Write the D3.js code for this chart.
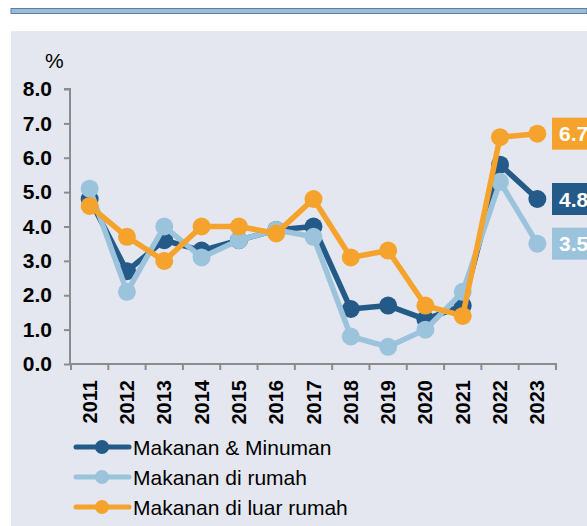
<!DOCTYPE html>
<html>
<head>
<meta charset="utf-8">
<script src="https://cdn.jsdelivr.net/npm/d3@7"></script>
<style>
  body { margin: 0; background: #fff; font-family: Arial, "Liberation Sans", sans-serif; }
</style>
</head>
<body>
<div id="chart"></div>
<script>
// data
var years = ["2011","2012","2013","2014","2015","2016","2017","2018","2019","2020","2021","2022","2023"];
var makananMinuman = [4.8, 2.7, 3.6, 3.3, 3.6, 3.9, 4.0, 1.6, 1.7, 1.3, 1.7, 5.8, 4.8];
var makananDiRumah = [5.1, 2.1, 4.0, 3.1, 3.6, 3.9, 3.7, 0.8, 0.5, 1.0, 2.1, 5.3, 3.5];
var makananLuarRumah = [4.6, 3.7, 3.0, 4.0, 4.0, 3.8, 4.8, 3.1, 3.3, 1.7, 1.4, 6.6, 6.7];
var yTicks = [0, 1, 2, 3, 4, 5, 6, 7, 8];

var series = [
    {name: "Makanan & Minuman", values: makananMinuman, color: "#245a88"},
    {name: "Makanan di rumah", values: makananDiRumah, color: "#9cc3dc"},
    {name: "Makanan di luar rumah", values: makananLuarRumah, color: "#f5a32c"}
];

var width = 587, height = 526;
var fontFam = "Arial, 'Liberation Sans', sans-serif";

var svg = d3.select("#chart").append("svg")
    .attr("width", width)
    .attr("height", height);

// top rule
svg.append("rect")
    .attr("x", 11).attr("y", 8.5)
    .attr("width", width - 11).attr("height", 5)
    .style("fill", "#9dbad4")
    .style("stroke", "#5b7fa0")
    .style("stroke-width", 1);

// panel
svg.append("rect")
    .attr("x", 11).attr("y", 31)
    .attr("width", width - 11).attr("height", height - 31)
    .style("fill", "#e4e7ef");

var x = d3.scaleBand()
    .domain(years)
    .range([71, 556]);

var y = d3.scaleLinear()
    .domain([0, 8])
    .range([364, 89]);

// y axis
var yAxis = svg.append("g")
    .attr("transform", "translate(70,0)")
    .call(d3.axisLeft(y).tickValues(yTicks).tickFormat(d3.format(".1f")).tickSize(6).tickPadding(12));

yAxis.select(".domain").attr("stroke", "#8c8c8c").attr("stroke-width", 2)
    .attr("d", "M-6," + y(8) + "H0V" + y(0));
yAxis.selectAll(".tick line").attr("stroke", "#8c8c8c").attr("stroke-width", 2);
yAxis.selectAll(".tick text")
    .style("font-family", fontFam)
    .style("font-size", "21px")
    .style("font-weight", "bold")
    .style("fill", "#000");

// x axis
var xAxis = svg.append("g")
    .attr("transform", "translate(0," + y(0) + ")")
    .call(d3.axisBottom(x).tickSize(0).tickPadding(0));

xAxis.select(".domain").attr("stroke", "#8c8c8c").attr("stroke-width", 2)
    .attr("d", "M70,0H556V6");
xAxis.selectAll(".tick line").remove();

// band boundary ticks
svg.append("g").selectAll("line")
    .data(years)
    .enter().append("line")
    .attr("x1", function(d) { return x(d); })
    .attr("x2", function(d) { return x(d); })
    .attr("y1", y(0))
    .attr("y2", y(0) + 6)
    .attr("stroke", "#8c8c8c")
    .attr("stroke-width", 2);

xAxis.selectAll(".tick text")
    .attr("transform", "translate(7,16) rotate(-90)")
    .attr("text-anchor", "end")
    .attr("dy", "0")
    .attr("y", 0)
    .style("font-family", fontFam)
    .style("font-size", "20px")
    .style("font-weight", "bold")
    .style("fill", "#000");

// unit label
svg.append("text")
    .attr("x", 45).attr("y", 68)
    .text("%")
    .style("font-family", fontFam)
    .style("font-size", "21px")
    .style("fill", "#000");

var line = d3.line()
    .x(function(d, i) { return x(years[i]) + x.bandwidth() / 2; })
    .y(function(d) { return y(d); });

series.forEach(function(s) {
    var g = svg.append("g");
    g.append("path")
        .datum(s.values)
        .attr("d", line)
        .attr("fill", "none")
        .attr("stroke", s.color)
        .attr("stroke-width", 5.5)
        .attr("stroke-linejoin", "round");
    g.selectAll("circle")
        .data(s.values)
        .enter().append("circle")
        .attr("cx", function(d, i) { return x(years[i]) + x.bandwidth() / 2; })
        .attr("cy", function(d) { return y(d); })
        .attr("r", 9)
        .style("fill", s.color);
});

// end value labels
series.forEach(function(s) {
    var last = s.values[s.values.length - 1];
    svg.append("rect")
        .attr("x", 552)
        .attr("y", y(last) - 16)
        .attr("width", 50)
        .attr("height", 32)
        .style("fill", s.color);
    svg.append("text")
        .attr("x", 559)
        .attr("y", y(last))
        .attr("dy", "0.36em")
        .text(d3.format(".1f")(last))
        .style("font-family", fontFam)
        .style("font-size", "21px")
        .style("font-weight", "bold")
        .style("fill", "#fff");
});

// legend
series.forEach(function(s, i) {
    var ly = 447 + 30 * i;
    svg.append("line")
        .attr("x1", 76).attr("x2", 129)
        .attr("y1", ly).attr("y2", ly)
        .attr("stroke", s.color)
        .attr("stroke-width", 5)
        .attr("stroke-linecap", "round");
    svg.append("circle")
        .attr("cx", 102).attr("cy", ly)
        .attr("r", 7)
        .style("fill", s.color);
    svg.append("text")
        .attr("x", 133).attr("y", ly)
        .attr("dy", "0.36em")
        .text(s.name)
        .style("font-family", fontFam)
        .style("font-size", "21px")
        .style("fill", "#000");
});
</script>
</body>
</html>
